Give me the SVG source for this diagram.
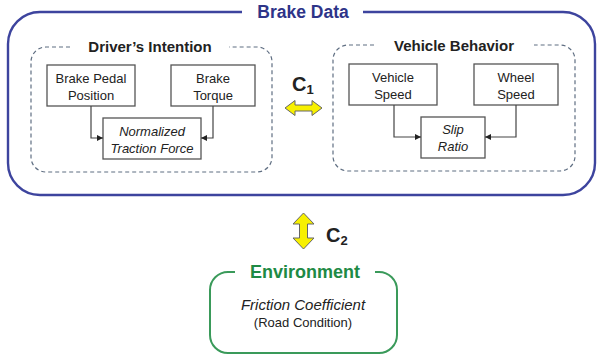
<svg xmlns="http://www.w3.org/2000/svg" width="597" height="356" viewBox="0 0 597 356">
  <style>
    .txt { font-family: "Liberation Sans", Arial, sans-serif; font-size: 13px; fill: #222; text-anchor: middle; }
    .it { font-style: italic; }
    .title { font-family: "Liberation Sans", Arial, sans-serif; font-weight: bold; font-size: 15px; fill: #222; text-anchor: middle; }
    .box { fill: #fff; stroke: #555; stroke-width: 1.3; }
    .dash { fill: none; stroke: #5f6e82; stroke-width: 1.2; stroke-dasharray: 4 3; }
    .link { fill: none; stroke: #444; stroke-width: 1.2; }
    .yarrow { fill: #f7f000; stroke: #666; stroke-width: 1; stroke-linejoin: miter; }
    .clabel { font-family: "Liberation Sans", Arial, sans-serif; font-weight: bold; fill: #222; }
  </style>
  <defs>
    <marker id="tip" viewBox="0 0 8 8" refX="8" refY="4" markerWidth="6" markerHeight="6" orient="auto" markerUnits="userSpaceOnUse">
      <path d="M0,0 L8,4 L0,8 z" fill="#222"/>
    </marker>
  </defs>

  <!-- Brake Data container -->
  <g id="brake-data">
    <path d="M242,12 H40 A32,32 0 0 0 8,44 V163 A32,32 0 0 0 40,195 H563 A32,32 0 0 0 595,163 V44 A32,32 0 0 0 563,12 H363" fill="none" stroke="#3d449e" stroke-width="2.4"/>
    <text x="303" y="18" font-family="Liberation Sans, Arial, sans-serif" font-weight="bold" font-size="17.5" fill="#2e3488" text-anchor="middle">Brake Data</text>
  </g>

  <!-- Driver's Intention group -->
  <g id="drivers-intention">
    <path class="dash" d="M70,47 H46 A15,15 0 0 0 31,62 V157 A15,15 0 0 0 46,172 H257 A15,15 0 0 0 272,157 V62 A15,15 0 0 0 257,47 H229"/>
    <text class="title" x="150" y="52">Driver’s Intention</text>
  </g>
  <g id="brake-pedal-position">
    <rect class="box" x="47" y="65" width="88" height="41"/>
    <text class="txt" x="91" y="83">Brake Pedal</text>
    <text class="txt" x="91" y="100">Position</text>
  </g>
  <g id="brake-torque">
    <rect class="box" x="171" y="65" width="84" height="41"/>
    <text class="txt" x="213" y="83">Brake</text>
    <text class="txt" x="213" y="100">Torque</text>
  </g>
  <g id="normalized-traction-force">
    <rect class="box" x="103" y="118" width="98" height="41"/>
    <text class="txt it" x="152" y="136">Normalized</text>
    <text class="txt it" x="152" y="153">Traction Force</text>
  </g>

  <!-- Vehicle Behavior group -->
  <g id="vehicle-behavior">
    <path class="dash" d="M374,45 H348 A15,15 0 0 0 333,60 V156 A15,15 0 0 0 348,171 H560 A15,15 0 0 0 575,156 V60 A15,15 0 0 0 560,45 H534"/>
    <text class="title" x="454" y="51">Vehicle Behavior</text>
  </g>
  <g id="vehicle-speed">
    <rect class="box" x="349" y="64" width="88" height="41"/>
    <text class="txt" x="393" y="82">Vehicle</text>
    <text class="txt" x="393" y="99">Speed</text>
  </g>
  <g id="wheel-speed">
    <rect class="box" x="474" y="64" width="84" height="41"/>
    <text class="txt" x="516" y="82">Wheel</text>
    <text class="txt" x="516" y="99">Speed</text>
  </g>
  <g id="slip-ratio">
    <rect class="box" x="421" y="117" width="64" height="41"/>
    <text class="txt it" x="453" y="134">Slip</text>
    <text class="txt it" x="453" y="151">Ratio</text>
  </g>

  <!-- Environment -->
  <g id="environment">
    <path d="M235,272 H228 A18,18 0 0 0 210,290 V335 A18,18 0 0 0 228,353 H379 A18,18 0 0 0 397,335 V290 A18,18 0 0 0 379,272 H375" fill="none" stroke="#3a9a5a" stroke-width="2"/>
    <text x="305" y="278" font-family="Liberation Sans, Arial, sans-serif" font-weight="bold" font-size="18" fill="#1e8a45" text-anchor="middle">Environment</text>
    <text class="txt it" x="303" y="310" font-size="15" style="font-size:15px">Friction Coefficient</text>
    <text class="txt" x="303" y="327">(Road Condition)</text>
  </g>

  <!-- Connectors -->
  <g id="connectors">
    <path class="link" d="M91,106 V138 H103" marker-end="url(#tip)"/>
    <path class="link" d="M213,106 V138 H201" marker-end="url(#tip)"/>
    <path class="link" d="M394,105 V137 H421" marker-end="url(#tip)"/>
    <path class="link" d="M516,105 V137 H485" marker-end="url(#tip)"/>

    <g id="c1">
      <polygon class="yarrow" points="285,108 295,100.5 295,105 312,105 312,100.5 322,108 312,115.5 312,111 295,111 295,115.5"/>
      <text class="clabel" x="292" y="91" font-size="20">C<tspan font-size="13" dy="3">1</tspan></text>
    </g>
    <g id="c2">
      <polygon class="yarrow" points="303.5,213 314,224 307.5,224 307.5,238 314,238 303.5,249 293,238 299.5,238 299.5,224 293,224"/>
      <text class="clabel" x="326" y="242" font-size="20">C<tspan font-size="13" dy="3">2</tspan></text>
    </g>
  </g>
</svg>
